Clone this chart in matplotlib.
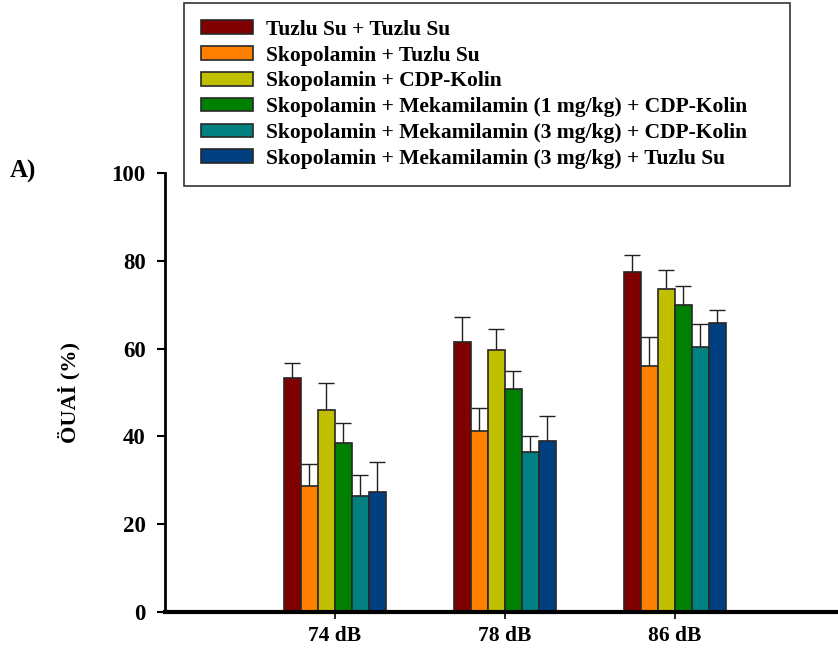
import numpy as np
import matplotlib.pyplot as plt

plt.rcParams['font.family'] = ['Liberation Serif', 'DejaVu Serif']
plt.rcParams['font.weight'] = 'bold'

# categories and groups
categories = ['74 dB', '78 dB', '86 dB']
groups = [
    'Tuzlu Su + Tuzlu Su',
    'Skopolamin + Tuzlu Su',
    'Skopolamin + CDP-Kolin',
    'Skopolamin + Mekamilamin (1 mg/kg) + CDP-Kolin',
    'Skopolamin + Mekamilamin (3 mg/kg) + CDP-Kolin',
    'Skopolamin + Mekamilamin (3 mg/kg) + Tuzlu Su',
]
colors = ['#800000', '#FF8000', '#C0C000', '#008000', '#008080', '#004080']

# mean values (per group, across 74/78/86 dB)
means = [
    [53.2, 61.6, 77.5],
    [28.8, 41.3, 56.1],
    [46.0, 59.7, 73.5],
    [38.6, 50.7, 69.9],
    [26.4, 36.4, 60.4],
    [27.3, 39.0, 65.8],
]
# standard error (upper only)
errors = [
    [3.6, 5.7, 3.8],
    [5.0, 5.2, 6.6],
    [6.2, 4.7, 4.5],
    [4.5, 4.2, 4.3],
    [4.7, 3.8, 5.1],
    [6.9, 5.7, 3.0],
]

fig = plt.figure(figsize=(8.38, 6.53), dpi=100)
ax = fig.add_axes([165 / 838, 41 / 653, 1 - 165 / 838, 439 / 653])

x = np.arange(1, len(categories) + 1)
width = 0.1
handles = []
for i, (name, c) in enumerate(zip(groups, colors)):
    pos = x + (i - 2.5) * width
    b = ax.bar(pos, means[i], width, color=c, edgecolor='#282828', linewidth=1.2,
               label=name, zorder=2)
    handles.append(b)
    ax.errorbar(pos, means[i], yerr=[np.zeros(3), errors[i]], fmt='none',
                ecolor='#202020', elinewidth=1.0, capsize=5.5, capthick=1.0, zorder=1)

ax.set_xlim(0, 3.96)
ax.set_ylim(0, 100)
ax.set_yticks([0, 20, 40, 60, 80, 100])
ax.set_xticks(x)
ax.set_xticklabels(categories, fontsize=15.5, fontweight='bold')
ax.tick_params(axis='y', labelsize=16.5, length=6, width=1.5, direction='out', pad=8)
ax.tick_params(axis='x', length=5, width=1.2, direction='out', pad=5)
for lbl in ax.get_yticklabels():
    lbl.set_fontweight('bold')

ax.spines['top'].set_visible(False)
ax.spines['right'].set_visible(False)
ax.spines['left'].set_linewidth(2)
ax.spines['bottom'].set_linewidth(3)

ax.set_ylabel('ÖUAİ (%)', fontsize=16, fontweight='bold', labelpad=22)

fig.text(10 / 838, 1 - 171 / 653, 'A)', fontsize=18, fontweight='bold', va='center')

leg = fig.legend(handles=handles, labels=groups, loc='upper left',
                 bbox_to_anchor=(184 / 838, 1 - 182 / 653, 606 / 838, 179 / 653),
                 mode='expand', borderaxespad=0,
                 prop={'size': 15.5, 'weight': 'bold'}, frameon=True, fancybox=False,
                 edgecolor='black', handlelength=2.42, handleheight=0.59,
                 labelspacing=0.27, borderpad=0.78, handletextpad=0.59)
leg.get_frame().set_linewidth(1.2)

fig.savefig('out.png', dpi=100)
